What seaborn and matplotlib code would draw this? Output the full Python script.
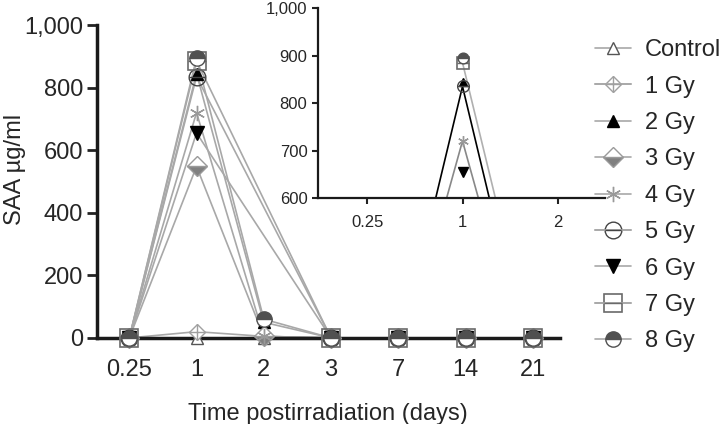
import numpy as np
import pandas as pd
import matplotlib
matplotlib.use("Agg")
import matplotlib.pyplot as plt
from matplotlib.lines import Line2D
import seaborn as sns

# ---------------- data ----------------
days = ["0.25", "1", "2", "3", "7", "14", "21"]
series_names = ["Control", "1 Gy", "2 Gy", "3 Gy", "4 Gy", "5 Gy", "6 Gy", "7 Gy", "8 Gy"]
control = [0, 0, 0, 0, 0, 0, 0]
gy1 = [0, 20, 5, 0, 0, 0, 0]
gy2 = [0, 845, 50, 0, 0, 0, 0]
gy3 = [0, 548, 5, 0, 0, 0, 0]
gy4 = [0, 720, 5, 0, 0, 0, 0]
gy5 = [0, 835, np.nan, 0, 0, 0, 0]
gy6 = [0, 655, np.nan, 0, 0, 0, 0]
gy7 = [0, 885, np.nan, 0, 0, 0, 0]
gy8 = [0, 895, 60, 0, 0, 0, 0]
all_values = [control, gy1, gy2, gy3, gy4, gy5, gy6, gy7, gy8]

# inset (zoom on 600-1000, first three time points)
inset_days = ["0.25", "1", "2"]
inset_5gy_line = [0, 835, 0]
inset_4gy_line = [0, 720, 0]
inset_7gy_line = [np.nan, 885, 60]
inset_y_ticks = [600, 700, 800, 900, 1000]
main_y_ticks = [0, 200, 400, 600, 800, 1000]

# ---------------- style ----------------
sns.set_theme(style="ticks")
plt.rcParams["font.family"] = ["Liberation Sans", "DejaVu Sans"]

FS = 17
LINE_GRAY = "#a8a8a8"
marker_specs = {
    "Control": [dict(marker="^", mfc="white", mec="#555555", ms=9, mew=1.0)],
    "1 Gy": [dict(marker="D", mfc="white", mec="#a0a0a0", ms=8, mew=1.0),
             dict(marker="+", mfc="none", mec="#a0a0a0", ms=11, mew=1.0)],
    "2 Gy": [dict(marker="^", mfc="black", mec="black", ms=9, mew=1.0)],
    "3 Gy": [dict(marker="D", fillstyle="bottom", mfc="#808080", mfcalt="white",
                  mec="#9a9a9a", ms=10, mew=1.0)],
    "4 Gy": [dict(marker=(6, 2, 0), mfc="none", mec="#999999", ms=11, mew=1.0)],
    "5 Gy": [dict(marker="o", mfc="none", mec="#444444", ms=12, mew=1.0),
             dict(marker="_", mfc="none", mec="#444444", ms=12, mew=1.0)],
    "6 Gy": [dict(marker="v", mfc="black", mec="black", ms=10, mew=1.0)],
    "7 Gy": [dict(marker="s", mfc="none", mec="#6a6a6a", ms=13, mew=1.2),
             dict(marker="_", mfc="none", mec="#6a6a6a", ms=13, mew=1.0)],
    "8 Gy": [dict(marker="o", fillstyle="top", mfc="#505050", mfcalt="white",
                  mec="#505050", ms=11, mew=1.0)],
}

fig = plt.figure(figsize=(7.24, 4.24), dpi=100)
ax = fig.add_axes([0.134, 0.203, 0.639, 0.738])

x_pos = np.arange(len(days))
handles = []
for name, vals in zip(series_names, all_values):
    df = pd.DataFrame({"x": x_pos, "y": vals}).dropna()
    sns.lineplot(data=df, x="x", y="y", ax=ax, color=LINE_GRAY, lw=1.2,
                 clip_on=False, zorder=2, legend=False)
    parts = []
    for spec in marker_specs[name]:
        ax.plot(df["x"], df["y"], ls="none", clip_on=False, zorder=3, **spec)
        parts.append(Line2D([], [], color=LINE_GRAY, lw=1.2, **spec))
    handles.append(tuple(parts) if len(parts) > 1 else parts[0])

ax.set_xlim(-0.48, 6.4)
ax.set_ylim(0, 1000)
ax.set_xticks(x_pos)
ax.set_xticklabels(days)
ax.set_yticks(main_y_ticks)
ax.set_yticklabels([f"{v:,}" for v in main_y_ticks])
ax.set_xlabel("Time postirradiation (days)", fontsize=FS, labelpad=16)
ax.set_ylabel("SAA µg/ml", fontsize=FS)
ax.yaxis.set_label_coords(-0.153, 0.537)
ax.tick_params(axis="both", labelsize=FS, width=2, length=7, color="#222222")
ax.tick_params(axis="y", pad=3)
ax.tick_params(axis="x", length=0, pad=15)
for s in ["left", "bottom"]:
    ax.spines[s].set_linewidth(2.5)
    ax.spines[s].set_color("#1a1a1a")
sns.despine(ax=ax)

leg = ax.legend(handles, series_names, loc="upper left",
                bbox_to_anchor=(1.057, 0.985), frameon=False, fontsize=FS,
                handlelength=1.5, handletextpad=0.6, labelspacing=0.61,
                borderaxespad=0)

# ---------------- inset ----------------
ins = fig.add_axes([0.439, 0.533, 0.397, 0.448])
ins.patch.set_alpha(0)
ix = np.arange(len(inset_days))
for vals, col in [(inset_5gy_line, "black"), (inset_4gy_line, "#888888"),
                  (inset_7gy_line, "#b0b0b0")]:
    df = pd.DataFrame({"x": ix, "y": vals}).dropna()
    sns.lineplot(data=df, x="x", y="y", ax=ins, color=col, lw=1.2, legend=False)

for name, vals in zip(series_names, all_values):
    for spec in marker_specs[name]:
        sp = dict(spec)
        sp["ms"] = spec["ms"] * 0.7
        ins.plot(ix, vals[:3], ls="none", zorder=3, **sp)

ins.set_xlim(-0.52, 2.5)
ins.set_ylim(600, 1000)
ins.set_xticks(ix)
ins.set_xticklabels(inset_days)
ins.set_yticks(inset_y_ticks)
ins.set_yticklabels([f"{v:,}" for v in inset_y_ticks])
ins.set_xlabel("")
ins.set_ylabel("")
ins.tick_params(axis="both", labelsize=12, width=1.5, length=4, color="#222222")
ins.tick_params(axis="x", pad=8)
for s in ["left", "bottom"]:
    ins.spines[s].set_linewidth(1.6)
    ins.spines[s].set_color("#1a1a1a")
sns.despine(ax=ins)

fig.savefig("out.png", dpi=100)
